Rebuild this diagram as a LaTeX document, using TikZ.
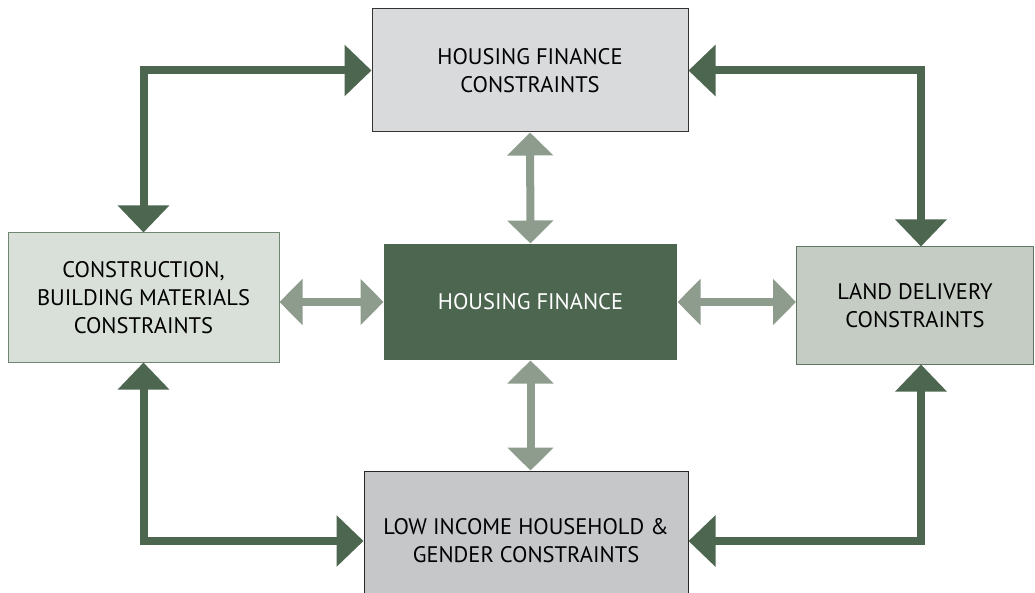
\documentclass[tikz,border=0pt]{standalone}
\usepackage{fontspec}
\setmainfont{PT Sans}
\usetikzlibrary{arrows.meta}
\usetikzlibrary{positioning}
\usepackage{xcolor}

\definecolor{darkgreen}{RGB}{77,102,80}
\definecolor{palegreen}{RGB}{141,156,141}
\definecolor{topgray}{RGB}{217,218,220}
\definecolor{leftgreen}{RGB}{217,224,217}
\definecolor{rightgreen}{RGB}{197,204,196}
\definecolor{lowgray}{RGB}{198,199,201}

\begin{document}
\begin{tikzpicture}[x=1pt, y=-1pt,
	every node/.style={font=\fontsize{22.5}{28}\selectfont, align=center},
	box/.style={rectangle, inner sep=0pt, line width=1pt},
	bigarrow/.style={darkgreen, line width=8pt,
		{Triangle[length=27pt, width=50pt]}-{Triangle[length=27pt, width=50pt]}},
	smallarrow/.style={palegreen, line width=8pt,
		{Triangle[length=23pt, width=45pt]}-{Triangle[length=23pt, width=45pt]}}]

	\useasboundingbox (0,0) rectangle (1035,593);

	% boxes
	\node[box, draw=black!80, fill=topgray, minimum width=316pt, minimum height=123pt]
		(finc) at (530,70.5) {HOUSING FINANCE\\CONSTRAINTS};
	\node[box, draw=darkgreen!80, fill=leftgreen, minimum width=271pt, minimum height=129pt]
		(build) at (143.5,297.5) {CONSTRUCTION,\\BUILDING MATERIALS\\CONSTRAINTS};
	\node[box, fill=darkgreen, text=white, minimum width=293pt, minimum height=116pt]
		(hf) at (530.5,302) {HOUSING FINANCE};
	\node[box, draw=darkgreen!90, fill=rightgreen, minimum width=237pt, minimum height=117pt]
		(land) at (915,305.5) {LAND DELIVERY\\CONSTRAINTS};
	\node[box, draw=black!85, fill=lowgray, minimum width=324pt, minimum height=140pt]
		(low) at (526,541) {LOW INCOME HOUSEHOLD \&\\GENDER CONSTRAINTS};

	% outer ring
	\draw[bigarrow] (build.north) |- (finc.west);
	\draw[bigarrow] (finc.east) -| ([xshift=6pt]land.north);
	\draw[bigarrow] ([xshift=6pt]land.south) |- (low.east);
	\draw[bigarrow] (low.west) -| (build.south);

	% links to the centre
	\draw[smallarrow] (finc.south) -- (hf.north);
	\draw[smallarrow] (hf.south) -- (low.north -| hf.south);
	\draw[smallarrow] (build.east |- hf.west) -- (hf.west);
	\draw[smallarrow] (hf.east) -- (land.west |- hf.east);
\end{tikzpicture}
\end{document}
